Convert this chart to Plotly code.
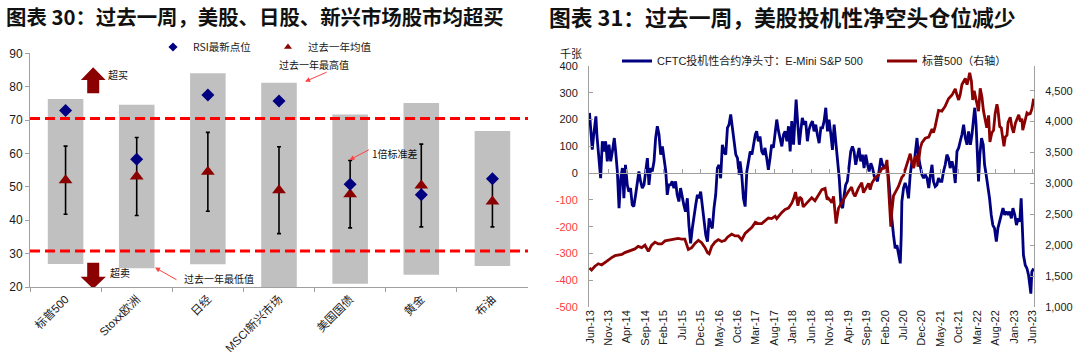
import plotly.graph_objects as go

# ---------------- Left chart data (RSI) ----------------
categories = ["标普500", "Stoxx欧洲", "日经", "MSCI新兴市场", "美国国债", "黄金", "布油"]
rsi_latest = [72.9, 58.3, 77.5, 75.7, 50.8, 47.6, 52.4]
year_mean = [52.0, 53.1, 54.5, 49.0, 47.8, 50.4, 45.6]
year_sd = [10.2, 11.7, 11.8, 13.0, 10.1, 12.4, 7.6]
year_max = [76.3, 74.6, 84.0, 81.2, 71.7, 75.1, 66.7]
year_min = [26.9, 25.6, 26.8, 20.0, 21.0, 23.7, 26.3]
overbought_line = 70.5
oversold_line = 30.8

# ---------------- Right chart data ----------------
cftc_dates = [
    "2013-05-28", "2013-06-09", "2013-06-20", "2013-07-01", "2013-07-20", "2013-07-28", "2013-08-14", "2013-08-28",
    "2013-09-11", "2013-09-25", "2013-10-08", "2013-10-22", "2013-11-05", "2013-11-19", "2013-12-03", "2013-12-19",
    "2013-12-30", "2014-01-13", "2014-01-27", "2014-02-10", "2014-02-24", "2014-03-08", "2014-03-21", "2014-04-05",
    "2014-04-18", "2014-05-02", "2014-05-16", "2014-05-29", "2014-06-13", "2014-06-26", "2014-07-10", "2014-07-24",
    "2014-08-07", "2014-08-21", "2014-09-04", "2014-09-18", "2014-10-01", "2014-10-15", "2014-10-28", "2014-11-12",
    "2014-11-25", "2014-12-09", "2014-12-23", "2015-01-06", "2015-01-20", "2015-02-03", "2015-02-17", "2015-03-01",
    "2015-03-14", "2015-03-28", "2015-04-11", "2015-04-25", "2015-05-09", "2015-05-22", "2015-06-05", "2015-06-19",
    "2015-07-03", "2015-07-16", "2015-07-30", "2015-08-14", "2015-08-27", "2015-09-10", "2015-09-24", "2015-10-08",
    "2015-10-22", "2015-11-05", "2015-11-18", "2015-12-02", "2015-12-16", "2015-12-29", "2016-01-13", "2016-01-27",
    "2016-02-10", "2016-02-23", "2016-03-07", "2016-03-21", "2016-04-04", "2016-04-18", "2016-05-01", "2016-05-15",
    "2016-05-29", "2016-06-12", "2016-06-26", "2016-07-10", "2016-07-23", "2016-08-06", "2016-08-20", "2016-09-03",
    "2016-09-17", "2016-10-01", "2016-10-14", "2016-10-22", "2016-11-05", "2016-11-19", "2016-12-03", "2016-12-17",
    "2016-12-31", "2017-01-14", "2017-01-28", "2017-02-11", "2017-02-25", "2017-03-08", "2017-03-22", "2017-04-05",
    "2017-04-19", "2017-05-03", "2017-05-16", "2017-05-30", "2017-06-13", "2017-06-27", "2017-07-10", "2017-07-24",
    "2017-08-08", "2017-08-21", "2017-09-05", "2017-09-18", "2017-10-02", "2017-10-16", "2017-10-29", "2017-11-13",
    "2017-11-26", "2017-12-10", "2017-12-23", "2018-01-07", "2018-01-20", "2018-01-28", "2018-02-09", "2018-02-23",
    "2018-03-07", "2018-03-20", "2018-04-04", "2018-04-17", "2018-05-01", "2018-05-14", "2018-05-28", "2018-06-12",
    "2018-06-25", "2018-07-09", "2018-07-22", "2018-08-06", "2018-08-20", "2018-09-03", "2018-09-16", "2018-09-30",
    "2018-10-14", "2018-10-27", "2018-11-11", "2018-11-24", "2018-12-08", "2018-12-22", "2019-01-05", "2019-01-19",
    "2019-02-02", "2019-02-16", "2019-03-01", "2019-03-13", "2019-03-27", "2019-04-10", "2019-04-24", "2019-05-08",
    "2019-05-21", "2019-06-04", "2019-06-18", "2019-07-02", "2019-07-15", "2019-07-29", "2019-08-12", "2019-08-26",
    "2019-09-10", "2019-09-23", "2019-10-07", "2019-10-21", "2019-11-04", "2019-11-18", "2019-12-01", "2019-12-15",
    "2019-12-29", "2020-01-12", "2020-01-26", "2020-02-09", "2020-02-22", "2020-03-06", "2020-03-14", "2020-03-28",
    "2020-04-11", "2020-04-25", "2020-05-09", "2020-05-22", "2020-06-06", "2020-06-14", "2020-06-19", "2020-07-03",
    "2020-07-16", "2020-07-30", "2020-08-13", "2020-08-27", "2020-09-10", "2020-09-24", "2020-10-08", "2020-10-22",
    "2020-11-05", "2020-11-18", "2020-12-02", "2020-12-16", "2020-12-29", "2021-01-13", "2021-01-27", "2021-02-10",
    "2021-02-23", "2021-03-07", "2021-03-21", "2021-04-04", "2021-04-18", "2021-05-01", "2021-05-15", "2021-05-29",
    "2021-06-12", "2021-06-26", "2021-07-09", "2021-07-23", "2021-08-07", "2021-08-20", "2021-09-03", "2021-09-17",
    "2021-10-01", "2021-10-14", "2021-10-28", "2021-11-11", "2021-11-25", "2021-12-09", "2021-12-22", "2022-01-06",
    "2022-01-19", "2022-02-03", "2022-02-11", "2022-02-22", "2022-03-06", "2022-03-14", "2022-03-25", "2022-04-08",
    "2022-04-22", "2022-05-03", "2022-05-16", "2022-05-30", "2022-06-13", "2022-06-27", "2022-07-10", "2022-07-24",
    "2022-08-08", "2022-08-21", "2022-09-05", "2022-09-18", "2022-10-02", "2022-10-16", "2022-10-29", "2022-11-13",
    "2022-11-26", "2022-12-10", "2022-12-23", "2023-01-07", "2023-01-21", "2023-02-04", "2023-02-18", "2023-03-01",
    "2023-03-09", "2023-03-20", "2023-04-04", "2023-04-18", "2023-05-01", "2023-05-12", "2023-05-20", "2023-05-28",
    "2023-06-12",
]
cftc_net = [
    225, 150, 88, 140, 212, 144, 69, -19,
    119, 81, 119, 44, 106, 44, 81, 131,
    81, 6, -131, -19, 19, -94, 31, -44,
    -69, -56, -119, -125, -81, -44, 6, -31,
    -56, -44, 6, 56, -44, 19, 6, 44,
    131, 175, 144, 69, 100, 56, 6, -81,
    -44, -44, -31, -56, -31, -81, -106, -56,
    -94, -119, -144, -94, -194, -262, -206, -156,
    -119, -81, -94, -69, -131, -181, -231, -256,
    -169, -194, -206, -131, -81, 19, 31, -19,
    106, 81, 69, 169, 181, 219, 169, 119,
    69, 56, -6, 44, -6, -94, -125, 6,
    44, 81, 69, 106, 144, 156, 119, 137,
    81, 69, 94, 56, 12, 56, 106, 94,
    144, 200, 156, 131, 100, 144, 156, 119,
    175, 81, 194, 106, 219, 275, 194, 106,
    156, 206, 181, 194, 119, 162, 181, 194,
    156, 181, 144, 112, 169, 169, 194, 244,
    156, 200, 144, 87, 181, 119, 69, -19,
    -119, -131, -81, -44, -31, 31, 81, 100,
    81, 31, 69, 94, 44, 69, 19, 69,
    31, 6, 37, 19, -12, -19, -31, 19,
    56, 31, 19, 31, 19, -44, -106, -169,
    -231, -281, -269, -306, -337, -231, -106, -56,
    -37, -56, -94, -6, 44, 19, 69, 131,
    56, 31, -6, -19, -6, -19, -56, -6,
    31, -31, -50, -44, -19, -31, -31, 6,
    31, 69, 56, 19, 44, 19, -37, 81,
    94, 119, 144, 181, 131, 106, 156, 106,
    144, 212, 244, 181, 69, -31, 69, 131,
    106, 31, -6, -44, -94, -156, -194, -206,
    -256, -206, -175, -156, -131, -156, -144, -156,
    -144, -169, -131, -156, -194, -169, -181, -94,
    -181, -306, -344, -356, -381, -419, -450, -369,
    -356,
]

spx_dates = [
    "2013-05-28", "2013-06-14", "2013-07-12", "2013-08-09", "2013-09-06", "2013-10-03", "2013-10-30", "2013-11-27",
    "2013-12-25", "2014-01-22", "2014-02-19", "2014-03-16", "2014-04-13", "2014-05-10", "2014-06-07", "2014-07-04",
    "2014-08-02", "2014-08-29", "2014-09-26", "2014-10-23", "2014-11-20", "2014-12-17", "2015-01-14", "2015-02-11",
    "2015-03-09", "2015-04-06", "2015-05-03", "2015-05-30", "2015-06-27", "2015-07-24", "2015-08-22", "2015-09-19",
    "2015-10-16", "2015-11-13", "2015-12-10", "2016-01-07", "2016-01-27", "2016-02-10", "2016-03-02", "2016-03-29",
    "2016-04-26", "2016-05-23", "2016-06-20", "2016-07-10", "2016-08-14", "2016-09-11", "2016-10-08", "2016-11-05",
    "2016-12-03", "2016-12-31", "2017-01-28", "2017-02-25", "2017-03-22", "2017-04-19", "2017-05-16", "2017-06-13",
    "2017-07-10", "2017-08-08", "2017-08-21", "2017-09-05", "2017-10-02", "2017-10-29", "2017-11-26", "2017-12-23",
    "2018-01-07", "2018-01-23", "2018-02-04", "2018-02-12", "2018-02-26", "2018-03-15", "2018-03-28", "2018-04-11",
    "2018-05-09", "2018-06-06", "2018-07-03", "2018-08-01", "2018-08-28", "2018-09-24", "2018-10-11", "2018-10-22",
    "2018-11-19", "2018-12-03", "2018-12-19", "2018-12-24", "2019-01-13", "2019-02-10", "2019-03-07", "2019-04-04",
    "2019-05-01", "2019-05-15", "2019-05-29", "2019-06-26", "2019-07-24", "2019-08-07", "2019-08-21", "2019-09-18",
    "2019-10-01", "2019-10-15", "2019-11-11", "2019-12-09", "2020-01-06", "2020-02-03", "2020-02-17", "2020-03-01",
    "2020-03-09", "2020-03-20", "2020-03-28", "2020-04-11", "2020-04-25", "2020-05-22", "2020-06-19", "2020-07-03",
    "2020-07-16", "2020-08-13", "2020-08-27", "2020-09-10", "2020-09-24", "2020-10-08", "2020-10-22", "2020-10-30",
    "2020-11-18", "2020-12-02", "2020-12-29", "2021-01-27", "2021-02-23", "2021-03-07", "2021-03-21", "2021-04-18",
    "2021-05-15", "2021-06-12", "2021-07-09", "2021-08-07", "2021-09-03", "2021-09-17", "2021-10-01", "2021-10-14",
    "2021-10-28", "2021-11-25", "2021-12-09", "2021-12-22", "2021-12-31", "2022-01-14", "2022-01-25", "2022-02-06",
    "2022-02-17", "2022-02-28", "2022-03-14", "2022-03-28", "2022-04-11", "2022-04-24", "2022-05-08", "2022-05-21",
    "2022-06-05", "2022-06-16", "2022-07-02", "2022-07-16", "2022-07-29", "2022-08-13", "2022-08-21", "2022-09-05",
    "2022-09-18", "2022-10-02", "2022-10-10", "2022-10-21", "2022-11-04", "2022-11-13", "2022-12-01", "2022-12-15",
    "2022-12-28", "2023-01-13", "2023-01-26", "2023-02-09", "2023-02-23", "2023-03-07", "2023-03-14", "2023-03-28",
    "2023-04-18", "2023-05-01", "2023-05-15", "2023-05-28", "2023-06-12",
]
spx_close = [
    1630, 1600, 1660, 1700, 1680, 1720, 1770, 1800,
    1830, 1840, 1850, 1880, 1900, 1920, 1940, 1980,
    1960, 2000, 1900, 2000, 2050, 2020, 2020, 2070,
    2080, 2090, 2110, 2110, 2100, 2100, 1930, 1960,
    2030, 2080, 2040, 1960, 1880, 1860, 1980, 2050,
    2090, 2060, 2080, 2130, 2180, 2150, 2150, 2085,
    2190, 2240, 2290, 2370, 2350, 2350, 2400, 2440,
    2430, 2470, 2430, 2470, 2530, 2580, 2600, 2680,
    2750, 2860, 2700, 2640, 2780, 2750, 2620, 2650,
    2700, 2770, 2720, 2820, 2900, 2920, 2740, 2760,
    2690, 2790, 2500, 2350, 2600, 2700, 2790, 2870,
    2940, 2840, 2790, 2920, 3010, 2850, 2900, 3000,
    2900, 3000, 3090, 3140, 3240, 3250, 3380, 2950,
    2750, 2300, 2540, 2800, 2850, 2950, 3100, 3130,
    3220, 3370, 3480, 3340, 3250, 3420, 3450, 3270,
    3570, 3660, 3730, 3750, 3880, 3820, 3920, 4180,
    4170, 4250, 4370, 4430, 4530, 4430, 4350, 4440,
    4600, 4700, 4600, 4700, 4790, 4660, 4350, 4500,
    4380, 4280, 4170, 4540, 4400, 4170, 4000, 3900,
    4100, 3670, 3820, 3860, 4130, 4280, 4200, 3920,
    3900, 3640, 3600, 3750, 3780, 3990, 4070, 3900,
    3820, 3980, 4060, 4110, 4000, 4050, 3860, 3960,
    4140, 4120, 4130, 4200, 4370,
]

date_tick_vals = [
    "2013-06-01", "2013-11-01", "2014-04-01", "2014-09-01", "2015-02-01", "2015-07-01", "2015-12-01",
    "2016-05-01", "2016-10-01", "2017-03-01", "2017-08-01", "2018-01-01", "2018-06-01", "2018-11-01",
    "2019-04-01", "2019-09-01", "2020-02-01", "2020-07-01", "2020-12-01", "2021-05-01", "2021-10-01",
    "2022-03-01", "2022-08-01", "2023-01-01", "2023-06-01",
]
date_tick_text = [
    "Jun-13", "Nov-13", "Apr-14", "Sep-14", "Feb-15", "Jul-15", "Dec-15", "May-16", "Oct-16",
    "Mar-17", "Aug-17", "Jan-18", "Jun-18", "Nov-18", "Apr-19", "Sep-19", "Feb-20", "Jul-20",
    "Dec-20", "May-21", "Oct-21", "Mar-22", "Aug-22", "Jan-23", "Jun-23",
]
left_ticks = [-500, -400, -300, -200, -100, 0, 100, 200, 300, 400]
right_ticks = [1000, 1500, 2000, 2500, 3000, 3500, 4000, 4500]
left_range = [-500, 400]
right_range = [1000, 4900]
date_range = ["2013-05-24", "2023-06-15"]

# ---------------- styling ----------------
FONT = "Liberation Sans, Arial, Noto Sans CJK SC, sans-serif"
CJK = "Noto Sans CJK SC, Liberation Sans, sans-serif"
NAVY = "#000080"
DARKRED = "#8B0000"
AXIS = "#A0A0A0"
W, H = 1080, 357

fig = go.Figure()

# ----- left chart -----
fig.add_trace(go.Bar(
    x=categories, y=[hi - lo for hi, lo in zip(year_max, year_min)], base=year_min,
    width=0.5, marker=dict(color="#C0C0C0", line=dict(width=0)),
    xaxis="x", yaxis="y", showlegend=False, hoverinfo="skip"))
fig.add_trace(go.Scatter(
    x=categories, y=year_mean, mode="markers",
    marker=dict(symbol="triangle-up", size=12, color=DARKRED),
    error_y=dict(type="data", array=year_sd, color="black", thickness=1.6, width=2),
    xaxis="x", yaxis="y", showlegend=False))
fig.add_trace(go.Scatter(
    x=categories, y=rsi_latest, mode="markers",
    marker=dict(symbol="diamond", size=10, color=NAVY),
    xaxis="x", yaxis="y", showlegend=False))
# legend entries (small markers like the original)
fig.add_trace(go.Scatter(x=[None], y=[None], mode="markers", name="RSI最新点位",
                         marker=dict(symbol="diamond", size=7, color=NAVY),
                         xaxis="x", yaxis="y", legend="legend"))
fig.add_trace(go.Scatter(x=[None], y=[None], mode="markers", name="过去一年均值",
                         marker=dict(symbol="triangle-up", size=7, color=DARKRED),
                         xaxis="x", yaxis="y", legend="legend"))

# ----- right chart -----
fig.add_trace(go.Scatter(
    x=cftc_dates, y=cftc_net, mode="lines", name="CFTC投机性合约净头寸：E-Mini S&P 500",
    line=dict(color=NAVY, width=2.8), xaxis="x2", yaxis="y2", legend="legend2"))
fig.add_trace(go.Scatter(
    x=spx_dates, y=spx_close, mode="lines", name="标普500（右轴）",
    line=dict(color=DARKRED, width=2.8), xaxis="x2", yaxis="y3", legend="legend3"))
# carrier for the zero-line axis
fig.add_trace(go.Scatter(x=[cftc_dates[0]], y=[None], mode="lines", xaxis="x3", yaxis="y2",
                         showlegend=False, hoverinfo="skip"))

ldom_x = [30 / W, 528 / W]
ldom_y = [(H - 287) / H, (H - 53.3) / H]
rdom_x = [589 / W, 1034 / W]
rdom_y = [(H - 307) / H, (H - 66) / H]
zero_pos = rdom_y[0] + (0 - left_range[0]) / (left_range[1] - left_range[0]) * (rdom_y[1] - rdom_y[0])

left_ticktext = [f'<span style="color:#FF3B3B">{v}</span>' if v < 0 else str(v) for v in left_ticks]

fig.update_layout(
    width=W, height=H,
    margin=dict(l=0, r=0, t=0, b=0, autoexpand=False),
    paper_bgcolor="white", plot_bgcolor="rgba(0,0,0,0)",
    font=dict(family=FONT, size=11, color="#1a1a1a"),
    xaxis=dict(domain=ldom_x, anchor="y", type="category", showline=True, linecolor=AXIS, linewidth=1,
               ticks="outside", tickson="boundaries", ticklen=4, tickcolor=AXIS, tickangle=-45,
               tickfont=dict(size=11.5, family=FONT), showgrid=False, zeroline=False, automargin=False),
    yaxis=dict(domain=ldom_y, anchor="x", range=[20, 90], dtick=10, showline=True, linecolor=AXIS,
               linewidth=1, ticks="outside", ticklen=4, tickcolor=AXIS, tickfont=dict(size=12),
               showgrid=False, zeroline=False, automargin=False),
    xaxis2=dict(domain=rdom_x, anchor="y2", type="date", range=date_range, tickvals=date_tick_vals,
                ticktext=date_tick_text, tickangle=-90, showline=False, ticks="", showgrid=False,
                zeroline=False, tickfont=dict(size=11), automargin=False),
    xaxis3=dict(domain=rdom_x, anchor="free", position=zero_pos, overlaying="x2", type="date",
                range=date_range, tickvals=date_tick_vals, showticklabels=False, showline=True,
                linecolor=AXIS, linewidth=1, ticks="inside", ticklen=4, tickcolor=AXIS, showgrid=False,
                zeroline=False, automargin=False),
    yaxis2=dict(domain=rdom_y, anchor="x2", range=left_range, tickvals=left_ticks, ticktext=left_ticktext,
                showline=True, linecolor=AXIS, linewidth=1, ticks="inside", ticklen=4, tickcolor=AXIS,
                ticklabelstandoff=8, showgrid=False, zeroline=False, tickfont=dict(size=11),
                automargin=False),
    yaxis3=dict(domain=rdom_y, anchor="x2", overlaying="y2", side="right", range=right_range,
                tickvals=right_ticks, tickformat=",", showline=True, linecolor=AXIS, linewidth=1,
                ticks="inside", ticklen=4, tickcolor=AXIS, ticklabelstandoff=8, showgrid=False,
                zeroline=False, tickfont=dict(size=11), automargin=False),
    legend=dict(orientation="h", x=153 / W, y=1 - 47 / H, xanchor="left", yanchor="middle",
                bgcolor="rgba(0,0,0,0)", font=dict(size=10.5, family=CJK), entrywidth=70,
                itemclick=False, itemdoubleclick=False),
    legend2=dict(orientation="h", x=617 / W, y=1 - 61 / H, xanchor="left", yanchor="middle",
                 bgcolor="rgba(0,0,0,0)", font=dict(size=11, family=FONT),
                 itemclick=False, itemdoubleclick=False),
    legend3=dict(orientation="h", x=882 / W, y=1 - 61 / H, xanchor="left", yanchor="middle",
                 bgcolor="rgba(0,0,0,0)", font=dict(size=11, family=FONT),
                 itemclick=False, itemdoubleclick=False),
    showlegend=True,
)

# dashed overbought / oversold lines
for lvl in (overbought_line, oversold_line):
    fig.add_shape(type="line", xref="x domain", x0=0, x1=1, yref="y", y0=lvl, y1=lvl,
                  line=dict(color="#FF0000", width=3, dash="10px,5px"), layer="above")

# block arrows (overbought up / oversold down)
fig.add_shape(type="path", xref="x", yref="y", fillcolor=DARKRED, line=dict(width=0), layer="above",
              path="M 0.304 78.06 L 0.304 82.04 L 0.215 82.04 L 0.388 85.84 L 0.563 82.04 L 0.473 82.04 L 0.473 78.06 Z")
fig.add_shape(type="path", xref="x", yref="y", fillcolor=DARKRED, line=dict(width=0), layer="above",
              path="M 0.304 27.29 L 0.304 23.1 L 0.211 23.1 L 0.388 19.45 L 0.567 23.1 L 0.473 23.1 L 0.473 27.29 Z")

note_font = dict(family=CJK, size=10, color="#111111")
notes = [("超买", 0.567, 83.7), ("超卖", 0.596, 24.4), ("过去一年最低值", 1.633, 22.4),
         ("过去一年最高值", 2.969, 86.5), ("1倍标准差", 4.281, 60.1)]
for txt, xx, yy in notes:
    fig.add_annotation(text=txt, x=xx, y=yy, xref="x", yref="y", xanchor="left", yanchor="middle",
                       showarrow=False, font=note_font)

arrow_specs = [(1.257, 25.82, 23, 13), (3.367, 81.53, 23, -10), (3.99, 58.05, 21, -11)]
for hx, hy, axp, ayp in arrow_specs:
    fig.add_annotation(text="", x=hx, y=hy, xref="x", yref="y", ax=axp, ay=ayp, showarrow=True,
                       arrowhead=2, arrowsize=1, arrowwidth=1, arrowcolor="#FF4040")

# titles
fig.add_annotation(text="<b>图表 30：过去一周，美股、日股、新兴市场股市均超买</b>", x=5 / W, y=1,
                   xref="paper", yref="paper", xanchor="left", yanchor="top", showarrow=False,
                   borderpad=0, font=dict(family=CJK, size=20.4, color="#111111"))
fig.add_annotation(text="<b>图表 31：过去一周，美股投机性净空头仓位减少</b>", x=548 / W, y=1,
                   xref="paper", yref="paper", xanchor="left", yanchor="top", showarrow=False,
                   borderpad=0, font=dict(family=CJK, size=21.8, color="#111111"))
fig.add_annotation(text="千张", x=571 / W, y=1 - 53 / H, xref="paper", yref="paper", xanchor="center",
                   yanchor="middle", showarrow=False, font=dict(family=CJK, size=11, color="#1a1a1a"))

# page body has a default 8px margin; remove it so the figure sits at the window origin
fig.write_html("out.html", config={"displayModeBar": False},
               post_script="document.body.style.margin='0px';document.body.style.padding='0px';")
